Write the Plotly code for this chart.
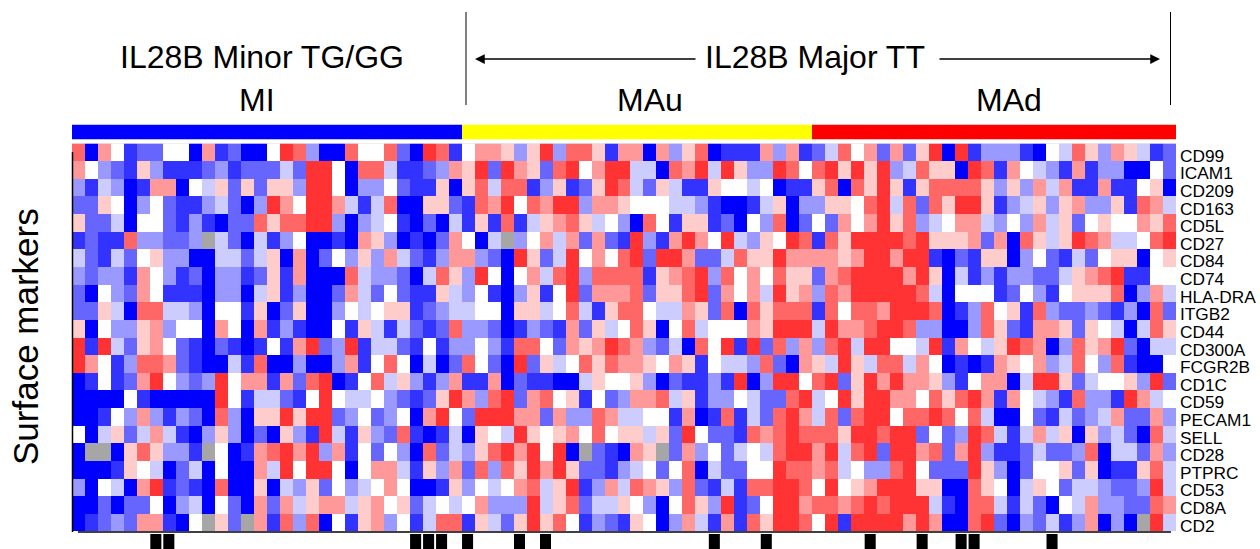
import plotly.graph_objects as go

N = None
markers = ["CD99","ICAM1","CD209","CD163","CD5L","CD27","CD84","CD74","HLA-DRA","ITGB2","CD44",
           "CD300A","FCGR2B","CD1C","CD59","PECAM1","SELL","CD28","PTPRC","CD53","CD8A","CD2"]
# colour level per cell, 0 (deep blue) .. 5 (white) .. 9 (deep red), None = missing
CD99   = [8,0,7,5,1,2,2,5,5,0,7,1,2,0,0,5,9,8,3,0,0,8,5,5,8,2,0,9,8,1, 5,7,7,6,3,6,9,3,8,8,6,1,7,7,0,7,3,6,8,0,1,1,1,7,3,7,1,2,4,8, 5,7,2,7,2,6,9,0,9,1,3,3,3,1,0,5,4,8,6,3,7,6,4,1,2]
ICAM1  = [7,5,3,2,1,6,3,1,1,1,2,3,1,2,2,2,4,2,9,9,5,0,8,8,4,1,1,2,3,7, 6,9,2,9,7,6,2,8,9,5,7,9,9,4,4,0,8,7,9,4,9,6,3,3,9,8,5,8,9,6, 9,6,9,3,4,8,6,6,0,9,8,1,7,5,4,3,1,7,1,3,3,0,0,5,2]
CD209  = [3,1,4,3,0,1,7,7,0,5,4,6,2,6,2,6,6,3,9,9,5,0,3,3,5,2,1,1,6,0, 6,8,4,8,8,1,3,6,1,2,6,9,8,4,2,6,4,1,1,6,5,5,4,5,0,1,1,6,8,0, 8,6,9,6,1,6,8,8,8,8,6,3,6,3,7,4,7,1,1,7,1,1,5,6,0]
CD163  = [2,2,6,5,0,3,5,2,1,1,3,4,2,0,3,9,7,5,9,9,7,4,1,4,8,0,0,6,6,2, 1,8,7,9,5,8,7,9,9,3,7,7,6,5,5,5,4,4,3,1,0,0,1,4,6,0,3,3,6,6, 5,8,9,4,8,2,8,6,9,9,6,1,3,4,6,3,6,7,3,3,6,1,8,7,4]
CD5L   = [6,2,2,4,0,5,5,2,1,3,1,0,2,2,8,6,8,8,9,9,3,0,3,4,5,1,0,2,0,4, 1,6,1,8,1,4,6,7,8,6,4,5,3,0,8,5,1,6,6,1,2,0,5,3,8,0,2,5,2,7, 5,7,9,6,8,3,4,5,7,7,4,3,5,3,7,4,6,2,5,6,5,5,7,6,8]
CD27   = [1,2,1,1,8,3,3,2,2,3,N,4,2,0,4,1,3,5,0,0,1,0,7,6,3,0,1,0,2,7, 5,0,4,N,3,5,7,4,7,2,7,2,1,9,3,1,7,9,7,5,9,4,3,6,5,9,8,1,8,6, 9,9,9,9,8,9,6,6,6,7,2,7,0,8,6,4,6,9,8,7,4,4,5,8,9]
CD84   = [4,2,1,4,2,5,6,3,3,0,0,4,4,2,4,6,0,7,0,2,5,3,6,3,7,4,2,1,3,7, 7,3,2,0,9,6,2,4,9,5,7,5,8,9,2,9,9,7,2,2,4,8,6,6,9,7,7,7,7,6, 7,9,9,7,9,9,1,0,2,1,6,6,0,3,5,2,1,4,2,5,6,6,0,5,6]
CD74   = [3,2,3,3,1,7,5,3,1,2,0,3,3,1,2,6,1,7,0,0,0,8,4,3,3,2,0,4,8,6, 3,9,5,0,5,7,4,8,9,3,8,8,8,8,1,6,7,8,9,3,8,5,7,5,8,6,6,2,7,8, 9,9,9,9,7,9,6,0,4,1,3,1,3,3,2,2,4,6,7,8,9,1,1,5,5]
HLA_DRA= [2,0,5,3,2,7,5,1,1,1,0,3,3,0,4,6,1,3,0,0,2,7,4,2,5,2,1,1,6,4, 3,5,1,0,3,6,1,5,9,2,7,7,7,8,2,6,6,8,9,2,7,5,7,4,9,6,7,3,8,7, 9,9,9,9,9,8,4,0,5,5,5,1,2,5,3,1,5,6,6,6,8,0,3,7,4]
ITGB2  = [2,2,6,4,0,8,8,4,4,3,0,5,5,1,6,0,2,6,0,0,3,5,4,5,6,6,1,2,3,4, 4,5,5,0,6,6,4,5,8,4,1,6,8,8,5,4,4,7,6,2,8,0,8,6,8,8,8,1,8,5, 8,8,7,9,9,9,8,0,1,3,8,5,6,1,8,3,2,2,3,2,1,3,0,8,2]
CD44   = [6,0,5,3,3,6,7,3,5,5,0,7,5,0,7,1,3,1,0,0,5,1,6,4,1,4,2,1,2,8, 3,3,2,0,1,3,2,1,7,2,6,4,5,8,6,0,5,8,4,5,5,5,7,6,9,9,9,4,9,7, 7,8,9,9,8,3,3,0,0,3,8,6,2,1,7,7,6,2,6,5,4,0,4,8,6]
CD300A = [9,1,9,4,2,6,7,5,2,1,0,2,1,0,1,5,1,7,9,2,3,9,1,4,4,2,1,5,1,3, 3,5,3,1,8,8,5,2,7,6,7,9,8,7,3,2,4,0,8,5,9,1,9,2,8,3,7,3,8,9, 4,9,9,5,5,4,9,1,7,5,4,6,9,8,7,0,3,8,6,7,9,2,0,4,4]
FCGR2B = [9,7,5,1,3,8,8,7,2,1,0,0,4,1,8,0,0,3,0,0,3,7,1,5,8,5,0,4,0,2, 8,5,2,0,9,2,6,4,5,8,6,8,7,7,6,5,7,6,1,5,4,4,3,8,2,0,7,6,4,9, 6,4,8,8,4,7,5,0,1,0,1,7,6,5,7,3,4,8,5,3,8,1,0,0,5]
CD1C   = [0,1,5,1,2,7,9,5,3,2,3,9,5,7,7,1,7,2,8,9,0,1,5,8,4,6,3,1,3,7, 1,1,7,0,2,1,1,0,0,4,6,5,5,6,3,0,2,1,1,3,1,9,0,3,9,9,5,8,9,2, 6,9,7,9,7,7,6,3,1,5,7,7,0,4,9,9,6,2,4,5,5,6,3,9,2]
CD59   = [0,0,0,0,5,1,0,0,0,0,0,9,5,1,4,4,2,1,5,9,5,4,4,5,3,2,1,2,6,9, 7,3,8,9,2,7,8,5,6,1,5,2,3,7,7,8,4,6,1,3,3,5,4,2,2,8,9,4,5,9, 6,9,9,7,7,5,8,6,8,9,7,1,7,5,4,3,1,8,3,3,1,9,7,4,5]
PECAM1 = [0,0,1,5,3,7,3,1,3,2,0,8,3,0,6,6,9,6,9,9,2,3,5,2,3,5,0,7,9,5, 2,9,9,9,7,7,2,7,3,3,8,7,4,4,5,5,1,7,0,1,8,1,4,2,8,9,7,4,8,2, 8,9,9,5,8,8,9,8,5,8,4,0,0,5,2,1,4,2,3,4,7,2,2,7,3]
SELL   = [5,0,4,6,2,4,7,4,1,0,3,6,3,0,2,0,6,3,1,9,4,1,6,3,2,8,1,0,1,4, 0,6,5,4,9,6,5,6,7,5,8,5,6,6,4,6,2,9,5,2,2,1,8,7,8,9,8,8,8,6, 9,9,8,9,9,2,5,2,3,9,8,4,1,4,7,4,6,0,6,3,4,2,0,8,4]
CD28   = [0,N,N,0,6,8,6,3,3,1,N,5,0,1,7,8,9,7,9,3,7,1,5,2,5,3,0,8,2,4, 3,6,8,9,7,9,5,9,0,N,2,1,0,7,6,N,2,7,3,5,2,4,5,4,8,9,9,7,9,4, 8,9,2,9,9,7,8,2,7,9,3,1,1,2,4,2,2,3,8,0,4,4,2,7,3]
PTPRC  = [0,0,0,1,6,5,4,0,2,4,0,5,0,0,7,4,9,5,9,9,5,0,5,7,7,4,1,6,3,7, 2,8,3,8,6,9,7,9,6,2,2,1,3,4,5,2,5,8,0,4,2,2,5,5,9,8,8,7,8,4, 5,3,3,8,9,5,2,2,2,9,6,3,0,2,5,5,6,2,6,0,1,1,6,8,4]
CD53   = [3,0,5,4,0,7,9,1,2,1,0,8,0,0,6,0,4,3,6,2,5,3,4,5,7,5,0,0,1,6, 3,5,4,5,7,8,4,6,9,1,3,7,4,8,7,6,3,8,2,1,4,1,8,8,9,9,8,5,9,5, 6,7,9,9,9,6,6,0,0,8,6,5,0,4,6,5,2,4,4,3,2,2,3,9,4]
CD8A   = [0,0,2,0,2,2,5,0,3,4,0,5,2,0,7,2,7,4,6,7,7,4,6,7,5,6,2,4,5,4, 5,7,3,3,3,9,4,6,8,2,4,4,6,5,3,0,5,8,6,3,9,1,2,5,9,9,7,8,8,7, 8,9,8,9,9,9,4,1,0,8,8,4,1,4,2,0,5,4,7,3,3,2,2,8,7]
CD2    = [0,1,2,3,2,7,7,1,0,5,N,6,2,N,7,1,8,3,8,0,5,1,6,7,3,5,1,4,8,8, 1,6,4,2,6,9,6,8,5,1,3,2,1,6,5,0,3,7,4,1,7,1,8,6,9,9,8,5,9,1, 9,9,9,9,7,9,7,0,0,8,9,2,0,3,2,4,1,3,7,0,3,0,N,9,4]
z = [CD99,ICAM1,CD209,CD163,CD5L,CD27,CD84,CD74,HLA_DRA,ITGB2,CD44,CD300A,FCGR2B,CD1C,CD59,PECAM1,SELL,CD28,PTPRC,CD53,CD8A,CD2]

level_colors = ["#0000FF","#3333FF","#6666FF","#9999FF","#CCCCFF","#FFFFFF","#FFCCCC","#FF9999","#FF6666","#FF3333"]
groups = ["MI","MAu","MAd"]
group_sizes = [30, 27, 28]
group_colors = ["#0000FF","#FFFF00","#FF0000"]
mark_cols = [7,8,27,28,29,31,35,37,50,54,62,66,69,70,76]  # 1-based sample columns with black tick

W, H = 1260, 549
def px(x): return x / W
def py(y): return 1 - y / H

def stepped(colors):
    n = len(colors)
    cs = []
    for i, c in enumerate(colors):
        cs += [[i / n, c], [(i + 1) / n, c]]
    return cs

ncol = len(CD99)
nrow = len(markers)
cols = list(range(ncol))
fig = go.Figure()
fig.add_trace(go.Heatmap(z=z, x=cols, y=list(range(nrow)), zmin=-0.5, zmax=9.5,
                         colorscale=stepped(level_colors), showscale=False, hoverongaps=False,
                         xaxis="x", yaxis="y"))
gz = []
for i, n in enumerate(group_sizes):
    gz += [i] * n
fig.add_trace(go.Heatmap(z=[gz], x=cols, y=[0], zmin=-0.5, zmax=2.5,
                         colorscale=stepped(group_colors), showscale=False, xaxis="x", yaxis="y2"))
fig.add_trace(go.Bar(x=[c - 1 for c in mark_cols], y=[1] * len(mark_cols), width=0.85, offset=-0.47,
                     marker=dict(color="#000000", line=dict(width=0)), showlegend=False,
                     xaxis="x", yaxis="y3"))

FONT = "Liberation Sans, Arial, sans-serif"
shapes = [
    dict(type="rect", xref="x", yref="y", x0=-0.5, x1=ncol - 0.5, y0=-0.5, y1=nrow - 0.5, layer="below",
         fillcolor="#A6A6A6", line=dict(width=0)),
    dict(type="line", xref="paper", yref="paper", x0=px(72.5), x1=px(72.5), y0=py(152), y1=py(532), line=dict(color="black", width=1.5)),
    dict(type="line", xref="paper", yref="paper", x0=px(78), x1=px(1171), y0=py(532), y1=py(532), line=dict(color="black", width=1.5)),
    dict(type="line", xref="paper", yref="paper", x0=px(466), x1=px(466), y0=py(12), y1=py(105), line=dict(color="black", width=1)),
    dict(type="line", xref="paper", yref="paper", x0=px(1170.5), x1=px(1170.5), y0=py(12), y1=py(105), line=dict(color="black", width=1)),
]
def text(s, x, y, size=32, **kw):
    return dict(text=s, xref="paper", yref="paper", x=px(x), y=py(y), showarrow=False,
                xanchor="center", yanchor="middle", font=dict(family=FONT, size=size, color="black"), **kw)
def arrow(x_from, x_to, y):
    return dict(xref="paper", yref="paper", axref="pixel", ayref="pixel", x=px(x_to), y=py(y),
                ax=x_from - x_to, ay=0, text="", showarrow=True, arrowhead=2, arrowsize=1.5,
                arrowwidth=1.3, arrowcolor="black")
annotations = [
    text("IL28B Minor TG/GG", 262, 57),
    text("IL28B Major TT", 815, 57),
    text(groups[0], 257, 100),
    text(groups[1], 650, 100),
    text(groups[2], 1009, 100),
    text("Surface markers", 25, 337, size=35, textangle=-90),
    arrow(697, 475, 59),
    arrow(938, 1160, 59),
]
for i, m in enumerate(markers):
    annotations.append(dict(text=m, xref="paper", yref="y", x=px(1179), y=i, yshift=-3.5, showarrow=False,
                            xanchor="left", yanchor="middle", borderpad=0,
                            font=dict(family=FONT, size=17.3, color="black")))

fig.update_layout(
    width=W, height=H, margin=dict(l=0, r=0, t=0, b=0), autosize=False,
    paper_bgcolor="white", plot_bgcolor="white", showlegend=False,
    font=dict(family=FONT, color="black"),
    xaxis=dict(domain=[px(72), px(1176)], range=[-0.5, ncol - 0.5], showgrid=False, zeroline=False,
               showticklabels=False, ticks="", showline=False),
    yaxis=dict(domain=[py(531), py(143.5)], range=[nrow - 0.5, -0.5], showticklabels=False, ticks="",
               showgrid=False, zeroline=False, showline=False),
    yaxis2=dict(domain=[py(139.5), py(124.5)], range=[-0.5, 0.5], showticklabels=False, ticks="",
                showgrid=False, zeroline=False, anchor="x"),
    yaxis3=dict(domain=[0, py(534)], range=[0, 1], showticklabels=False, ticks="", showgrid=False,
                zeroline=False, anchor="x"),
    shapes=shapes, annotations=annotations,
)
fig.write_html("out.html", config=dict(displayModeBar=False),
               post_script="document.body.style.margin='0';document.body.style.overflow='hidden';")
